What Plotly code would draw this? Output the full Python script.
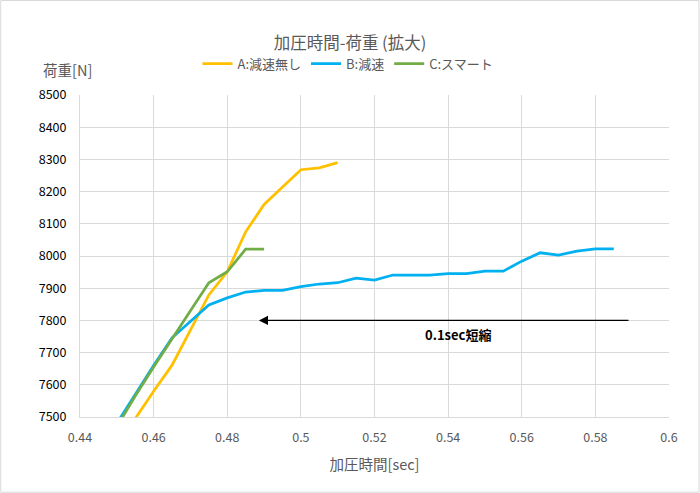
import plotly.graph_objects as go

# Data
a_time = [0.45, 0.455, 0.46, 0.465, 0.47, 0.475, 0.48, 0.485, 0.49, 0.495, 0.5, 0.505, 0.51]
a_load = [7340, 7495, 7580, 7661, 7770, 7879, 7951, 8075, 8160, 8215, 8268, 8274, 8290]

b_time = [0.45, 0.455, 0.46, 0.465, 0.47, 0.475, 0.48, 0.485, 0.49, 0.495, 0.5, 0.505, 0.51,
          0.515, 0.52, 0.525, 0.53, 0.535, 0.54, 0.545, 0.55, 0.555, 0.56, 0.565, 0.57,
          0.575, 0.58, 0.585]
b_load = [7480, 7572, 7660, 7746, 7797, 7848, 7870, 7888, 7893, 7893, 7905, 7913, 7917,
          7931, 7925, 7941, 7941, 7941, 7945, 7945, 7953, 7953, 7984, 8010, 8003,
          8015, 8022, 8022]

c_time = [0.45, 0.455, 0.46, 0.465, 0.47, 0.475, 0.48, 0.485, 0.49]
c_load = [7470, 7565, 7655, 7744, 7830, 7917, 7951, 8021, 8021]

x_ticks = [0.44, 0.46, 0.48, 0.5, 0.52, 0.54, 0.56, 0.58, 0.6]
x_tick_text = ["0.44", "0.46", "0.48", "0.5", "0.52", "0.54", "0.56", "0.58", "0.6"]

arrow_start = (0.5894, 7800)
arrow_end = (0.4886, 7800)
arrow_label = "0.1sec短縮"

FONT = "Noto Sans CJK JP"
GRAY = "#595959"

fig = go.Figure()
fig.add_trace(go.Scatter(x=a_time, y=a_load, mode="lines", name="A:減速無し",
                         line=dict(color="#FFC000", width=2.75)))
fig.add_trace(go.Scatter(x=b_time, y=b_load, mode="lines", name="B:減速",
                         line=dict(color="#00B0F0", width=2.75)))
fig.add_trace(go.Scatter(x=c_time, y=c_load, mode="lines", name="C:スマート",
                         line=dict(color="#70AD47", width=2.75)))

fig.add_annotation(x=arrow_end[0], y=arrow_end[1], ax=arrow_start[0], ay=arrow_start[1],
                   xref="x", yref="y", axref="x", ayref="y", text="",
                   showarrow=True, arrowhead=2, arrowsize=1.4, arrowwidth=1.3,
                   arrowcolor="#000000")
fig.add_annotation(x=0.5427, y=7755, xref="x", yref="y", text="<b>" + arrow_label + "</b>",
                   showarrow=False, font=dict(family=FONT, size=13, color="#000000"))

fig.add_annotation(x=-0.022, y=1.078, xref="paper", yref="paper", text="荷重[N]",
                   showarrow=False, xanchor="center", yanchor="middle",
                   font=dict(family=FONT, size=14.5, color=GRAY))

fig.add_shape(type="rect", xref="paper", yref="paper", x0=-0.1346, x1=1.0509,
              y0=-0.2335, y1=1.2935, line=dict(color="#d9d9d9", width=1))

fig.update_layout(
    width=700, height=493,
    margin=dict(l=80, r=31, t=95, b=76),
    paper_bgcolor="white", plot_bgcolor="white",
    font=dict(family=FONT, color=GRAY, size=12),
    title=dict(text="加圧時間-荷重 (拡大)", x=0.5, xanchor="center", y=0.913, yanchor="middle",
               font=dict(family=FONT, size=16.5, color=GRAY)),
    legend=dict(orientation="h", x=0.455, xanchor="center", y=1.097, yanchor="middle",
                font=dict(family=FONT, size=13, color=GRAY), itemwidth=30,
                bgcolor="rgba(0,0,0,0)"),
    xaxis=dict(range=[0.44, 0.6], tickvals=x_ticks, ticktext=x_tick_text,
               showgrid=True, gridcolor="#d9d9d9", gridwidth=1,
               showline=True, linecolor="#d9d9d9", zeroline=False, ticks="",
               ticklabelstandoff=9,
               tickfont=dict(family=FONT, size=12.5, color=GRAY),
               title=dict(text="加圧時間[sec]", font=dict(family=FONT, size=14.5, color=GRAY),
                          standoff=14)),
    yaxis=dict(range=[7500, 8500], dtick=100, showgrid=True, gridcolor="#d9d9d9",
               gridwidth=1, showline=True, linecolor="#d9d9d9", zeroline=False, ticks="",
               ticklabelstandoff=10,
               tickformat="d", tickfont=dict(family=FONT, size=12.5, color="#000000")),
)

fig.write_html("out.html")
